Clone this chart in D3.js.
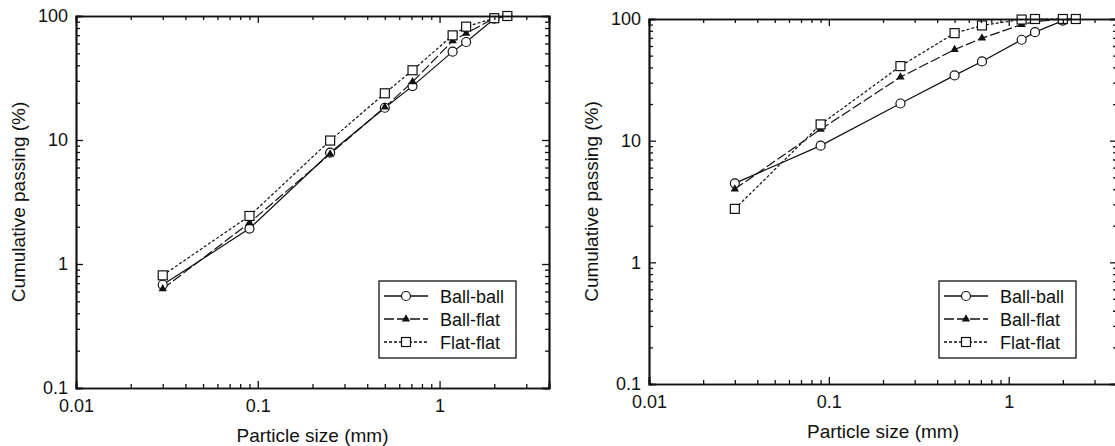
<!DOCTYPE html>
<html>
<head>
<meta charset="utf-8">
<script src="https://cdn.jsdelivr.net/npm/d3@7"></script>
<style>
  body { margin: 0; background: #fff; }
  svg { display: block; font-family: "Liberation Sans", Arial, sans-serif; }
  .tick text { font-size: 18px; fill: #111; }
  .axis path.domain { stroke: #111; stroke-width: 1.7; }
  .axis line { stroke: #111; stroke-width: 1.3; }
</style>
</head>
<body>
<div id="svg-container"></div>
<script>
////////////////////////////  Data  ////////////////////////////////
const sizes = [0.03, 0.09, 0.25, 0.5, 0.71, 1.18, 1.4, 2, 2.36];

// left panel
const ballBallA = [0.68, 1.93, 7.9, 18.2, 27.2, 51.6, 61.7, 95, 100];
const ballFlatA = [0.63, 2.15, 7.7, 18.4, 29.4, 63, 72.5, 96, 100];
const flatFlatA = [0.81, 2.44, 9.9, 23.8, 36.5, 69.8, 82, 96, 100];

// right panel
const ballBallB = [4.46, 9.1, 20.2, 34.4, 44.8, 67.5, 78, 97, 100];
const ballFlatB = [4.0, 12.4, 33.3, 56, 69.6, 90, 95, 100, 100];
const flatFlatB = [2.75, 13.6, 41, 76.5, 88.5, 99, 100, 100, 100];

const seriesNames = ["Ball-ball", "Ball-flat", "Flat-flat"];
const xMajor = [0.01, 0.1, 1];
const yMajor = [0.1, 1, 10, 100];
const xLabels = ["0.01", "0.1", "1"];
const yLabels = ["0.1", "1", "10", "100"];
const xTitle = "Particle size (mm)";
const yTitle = "Cumulative passing (%)";

////////////////////////////  Init  ///////////////////////////////
const width = 1115;
const height = 446;

const svg = d3
  .select("#svg-container")
  .append("svg")
  .attr("width", width)
  .attr("height", height);

// line styles per series
const styles = [
  { dash: null, marker: "circle" },
  { dash: "10,3", marker: "triangle" },
  { dash: "3,2", marker: "square" },
];

// minor ticks on log axes
const xMinor = [];
[0.01, 0.1, 1].forEach((d) => {
  for (let k = 2; k <= 9; k++) if (d * k <= 4) xMinor.push(d * k);
});
const yMinor = [];
[0.1, 1, 10].forEach((d) => {
  for (let k = 2; k <= 9; k++) yMinor.push(d * k);
});

function drawMarker(g, type, x, y) {
  if (type == "circle") {
    g.append("circle")
      .attr("cx", x)
      .attr("cy", y)
      .attr("r", 4.5)
      .attr("fill", "#fff")
      .attr("stroke", "#111")
      .attr("stroke-width", 1.2);
  } else if (type == "square") {
    g.append("rect")
      .attr("x", x - 4.5)
      .attr("y", y - 4.5)
      .attr("width", 9)
      .attr("height", 9)
      .attr("fill", "#fff")
      .attr("stroke", "#111")
      .attr("stroke-width", 1.2);
  } else {
    g.append("path")
      .attr("d", d3.symbol(d3.symbolTriangle, 30)())
      .attr("transform", `translate(${x},${y})`)
      .attr("fill", "#111");
  }
}

function panel(box, data, legendPos) {
  const g = svg.append("g");

  const xScale = d3.scaleLog().domain([0.01, 4]).range([box.left, box.right]);
  const yScale = d3.scaleLog().domain([0.1, 100]).range([box.bottom, box.top]);

  // data lines first, markers on top
  const line = d3
    .line()
    .x((d) => xScale(d[0]))
    .y((d) => yScale(d[1]));

  data.forEach((vals, i) => {
    const pts = sizes.map((s, j) => [s, vals[j]]);
    g.append("path")
      .datum(pts)
      .attr("d", line)
      .attr("fill", "none")
      .attr("stroke", "#111")
      .attr("stroke-width", 1.2)
      .attr("stroke-dasharray", styles[i].dash);
  });
  data.forEach((vals, i) => {
    sizes.forEach((s, j) =>
      drawMarker(g, styles[i].marker, xScale(s), yScale(vals[j]))
    );
  });

  // axes: ticks pointing inward on all four sides
  g.append("g")
    .attr("class", "axis")
    .attr("transform", `translate(0,${box.bottom})`)
    .call(d3.axisBottom(xScale).tickValues(xMinor).tickSize(-4).tickFormat(""));
  g.append("g")
    .attr("class", "axis")
    .attr("transform", `translate(0,${box.bottom})`)
    .call(
      d3.axisBottom(xScale)
        .tickValues(xMajor)
        .tickSize(-7)
        .tickPadding(11)
        .tickFormat((d, i) => xLabels[i])
    );
  g.append("g")
    .attr("class", "axis")
    .attr("transform", `translate(0,${box.top})`)
    .call(d3.axisTop(xScale).tickValues(xMinor).tickSize(-4).tickFormat(""));
  g.append("g")
    .attr("class", "axis")
    .attr("transform", `translate(0,${box.top})`)
    .call(d3.axisTop(xScale).tickValues(xMajor).tickSize(-7).tickFormat(""));

  g.append("g")
    .attr("class", "axis")
    .attr("transform", `translate(${box.left},0)`)
    .call(d3.axisLeft(yScale).tickValues(yMinor).tickSize(-4).tickFormat(""));
  g.append("g")
    .attr("class", "axis")
    .attr("transform", `translate(${box.left},0)`)
    .call(
      d3.axisLeft(yScale)
        .tickValues(yMajor)
        .tickSize(-7)
        .tickPadding(8)
        .tickFormat((d, i) => yLabels[i])
    );
  g.append("g")
    .attr("class", "axis")
    .attr("transform", `translate(${box.right},0)`)
    .call(d3.axisRight(yScale).tickValues(yMinor).tickSize(-4).tickFormat(""));
  g.append("g")
    .attr("class", "axis")
    .attr("transform", `translate(${box.right},0)`)
    .call(d3.axisRight(yScale).tickValues(yMajor).tickSize(-7).tickFormat(""));

  // titles
  g.append("text")
    .attr("x", (box.left + box.right) / 2)
    .attr("y", box.bottom + 54)
    .attr("text-anchor", "middle")
    .style("font-size", "19px")
    .attr("fill", "#111")
    .text(xTitle);

  g.append("text")
    .attr("transform", `translate(${box.left - 51},${(box.top + box.bottom) / 2}) rotate(-90)`)
    .attr("text-anchor", "middle")
    .style("font-size", "19px")
    .attr("fill", "#111")
    .text(yTitle);

  // legend
  const lg = g.append("g").attr("transform", `translate(${legendPos.x},${legendPos.y})`);
  lg.append("rect")
    .attr("width", 137)
    .attr("height", 77)
    .attr("fill", "#fff")
    .attr("stroke", "#111")
    .attr("stroke-width", 1.3);
  seriesNames.forEach((name, i) => {
    const yy = 15 + i * 23;
    lg.append("line")
      .attr("x1", 5)
      .attr("x2", 49)
      .attr("y1", yy)
      .attr("y2", yy)
      .attr("stroke", "#111")
      .attr("stroke-width", 1.3)
      .attr("stroke-dasharray", styles[i].dash);
    drawMarker(lg, styles[i].marker, 27, yy);
    lg.append("text")
      .attr("x", 61)
      .attr("y", yy + 6.5)
      .style("font-size", "18px")
      .attr("fill", "#111")
      .text(name);
  });
}

panel(
  { left: 76, right: 549, top: 16, bottom: 388 },
  [ballBallA, ballFlatA, flatFlatA],
  { x: 379, y: 281 }
);

panel(
  { left: 649, right: 1117, top: 19, bottom: 384 },
  [ballBallB, ballFlatB, flatFlatB],
  { x: 939, y: 281 }
);
</script>
</body>
</html>
